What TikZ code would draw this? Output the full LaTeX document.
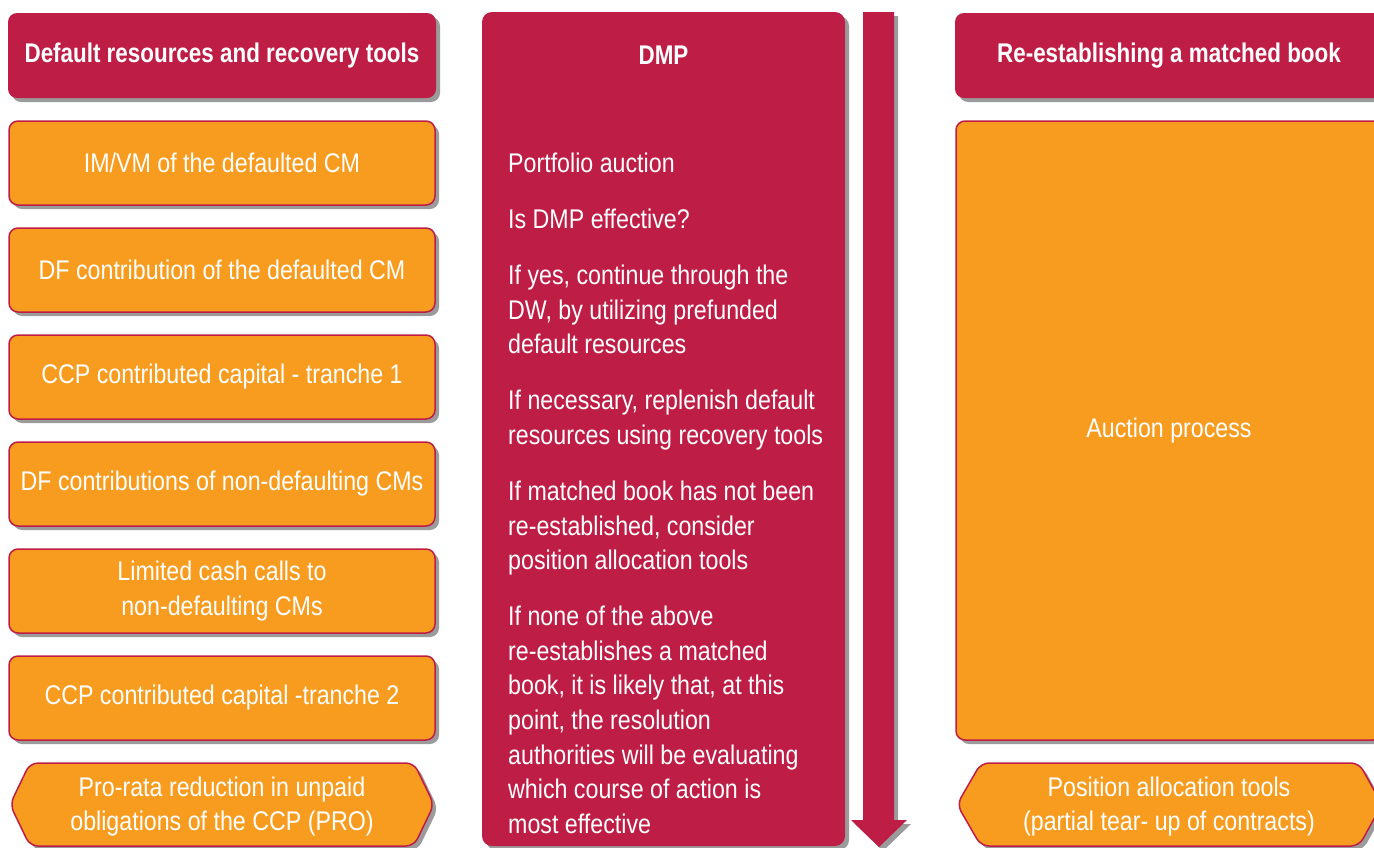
\documentclass[tikz,border=0pt]{standalone}
\usepackage{fontspec}
\setmainfont{Liberation Sans}[FakeStretch=0.86, BoldFeatures={FakeStretch=0.83}]
\usetikzlibrary{shadows}
\definecolor{crim}{RGB}{190,30,70}
\definecolor{orng}{RGB}{247,156,31}
\definecolor{shd}{RGB}{155,155,155}
\begin{document}
\begin{tikzpicture}[x=1pt,y=-1pt,
  shad/.style={drop shadow={shadow xshift=4pt, shadow yshift=-4pt, fill=shd, opacity=1}},
  txt/.style={text=white, font=\fontsize{27}{34.6}\selectfont},
  hdr/.style={shad, fill=crim, rounded corners=9pt, minimum width=428pt, minimum height=85pt, inner sep=0pt, text=white, font=\fontsize{27}{34.6}\selectfont\bfseries},
  obox/.style={shad, fill=orng, draw=crim, line width=1.5pt, rounded corners=9pt, minimum width=426pt, minimum height=84pt, inner sep=0pt, txt, align=center},
  hexa/.style={shad, fill=orng, draw=crim, line width=1.5pt, rounded corners=8pt},
  dmpbox/.style={shad, fill=crim, rounded corners=10pt, minimum width=363pt, minimum height=834pt, inner sep=0pt},
  arrowshape/.style={shad, fill=crim}
]
\useasboundingbox (0,0) rectangle (1374,847);
\clip (0,0) rectangle (1374,847);

% left column
\node[hdr] (lh) at (222,55.5) {Default resources and recovery tools};
\node[obox] (l1) at (222,163) {IM/VM of the defaulted CM};
\node[obox] (l2) at (222,270) {DF contribution of the defaulted CM};
\node[obox] (l3) at (222,377) {CCP contributed capital - tranche 1};
\node[obox] (l4) at (222,484) {DF contributions of non-defaulting CMs};
\node[obox] (l5) at (222,591) {Limited cash calls to\\non-defaulting CMs};
\node[obox] (l6) at (222,698) {CCP contributed capital -tranche 2};
\path[hexa] (30,763) -- (414,763) -- (434,804.5) -- (414,846) -- (30,846) -- (10,804.5) -- cycle;
\node[txt, align=center] (l7) at (222,806.5) {Pro-rata reduction in unpaid\\obligations of the CCP (PRO)};

% middle column
\node[dmpbox] (dmp) at (663.5,429) {};
\node[txt, font=\fontsize{27}{34.6}\selectfont\bfseries] (dmpt) at (663.5,55.5) {DMP};
\node[txt, align=left, anchor=north west, inner sep=0pt] (steps) at (508,152.5) {%
Portfolio auction\\[21.5pt]
Is DMP effective?\\[21.5pt]
If yes, continue through the\\
DW, by utilizing prefunded\\
default resources\\[21.5pt]
If necessary, replenish default\\
resources using recovery tools\\[21.5pt]
If matched book has not been\\
re-established, consider\\
position allocation tools\\[21.5pt]
If none of the above\\
re-establishes a matched\\
book, it is likely that, at this\\
point, the resolution\\
authorities will be evaluating\\
which course of action is\\
most effective};
\path[arrowshape] (863,12) -- (894,12) -- (894,820) -- (907,820) -- (879,847) -- (851,820) -- (863,820) -- cycle;

% right column
\node[hdr] (rh) at (1169,55.5) {Re-establishing a matched book};
\node[obox, minimum height=619pt] (auction) at (1169,430.5) {Auction process};
\path[hexa] (981,763) -- (1359,763) -- (1382,804.5) -- (1359,846) -- (981,846) -- (957,804.5) -- cycle;
\node[txt, align=center] (pat) at (1169,806.5) {Position allocation tools\\(partial tear- up of contracts)};
\end{tikzpicture}
\end{document}
